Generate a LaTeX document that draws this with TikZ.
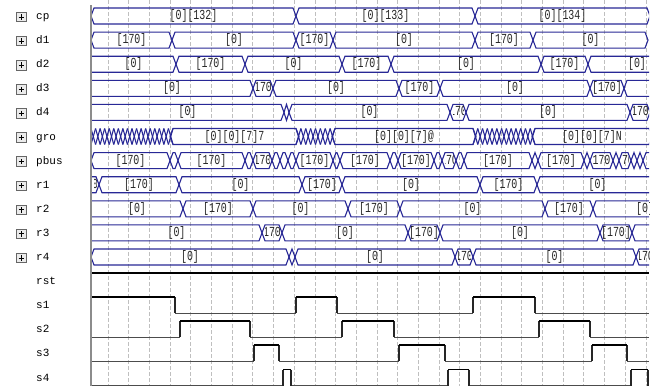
\documentclass[tikz,border=0pt]{standalone}
\usepackage{fontspec}
\newfontfamily\valfont[FakeStretch=0.72]{Liberation Mono}
\newfontfamily\lblfont{Liberation Mono}
\definecolor{busblue}{RGB}{40,40,150}
\tikzset{
  busline/.style={draw=busblue, line width=1.1pt, line join=miter},
  valtext/.style={font=\valfont\fontsize{13.8}{14}\selectfont, inner sep=0pt, text=black!85},
  lbl/.style={font=\lblfont\fontsize{11}{12}\selectfont, inner sep=0pt, anchor=base west},
  gridline/.style={draw=black!25, dash pattern=on 3.5pt off 2.5pt, line width=0.8pt},
  highline/.style={draw=black, line width=1.9pt},
  lowline/.style={draw=black!70, line width=1.1pt},
  edgeline/.style={draw=black!85, line width=1.1pt},
  plusframe/.style={draw=black!60, fill=black!8, line width=0.9pt},
  plussign/.style={draw=black, line width=1pt},
  border/.style={draw=black!45, line width=2pt},
}
% one bus segment: #1 yc, #2 left half-width, #3 a, #4 b, #5 label
\newcommand\busseg[5]{%
  \pgfmathsetmacro\wfHr{min(3,(#4-#3)/2)}%
  \pgfmathsetmacro\wfHl{min(#2,\wfHr)}%
  \pgfmathsetmacro\wfTop{#1-8}%
  \pgfmathsetmacro\wfBot{#1+8}%
  \draw[busline] (#3,#1) -- (#3+\wfHl,\wfTop) -- (#4-\wfHr,\wfTop) -- (#4,#1)
     -- (#4-\wfHr,\wfBot) -- (#3+\wfHl,\wfBot) -- cycle;
  \begin{scope}
    \clip (#3+3,\wfTop) rectangle (#4-3,\wfBot);
    \node[valtext] at ({(#3+#4)/2},#1) {#5};
  \end{scope}
}
\newcommand\wfrow[2]{%
  \foreach \wfh/\wfa/\wfb/\wflab in {#2} {\busseg{#1}{\wfh}{\wfa}{\wfb}{\wflab}}%
}
% dense transitions: #1 yc, #2 a, #3 b
\newcommand\zig[3]{%
  \pgfmathtruncatemacro\wfNz{round((#3-#2)/4.6)}%
  \pgfmathsetmacro\wfPz{(#3-#2)/\wfNz}%
  \foreach \wfi in {1,...,\wfNz} {
    \draw[busline] ({#2+(\wfi-1)*\wfPz},#1-8) -- ({#2+\wfi*\wfPz},#1+8);
    \draw[busline] ({#2+(\wfi-1)*\wfPz},#1+8) -- ({#2+\wfi*\wfPz},#1-8);
  }%
}
% digital row: #1 yc, #2 high intervals, #3 low intervals
\newcommand\digrow[3]{%
  \foreach \wfa/\wfb in {#3} {\draw[lowline] (\wfa,#1+8) -- (\wfb,#1+8);}
  \foreach \wfa/\wfb in {#2} {
    \draw[edgeline] (\wfa,#1-8) -- (\wfa,#1+8) (\wfb,#1-8) -- (\wfb,#1+8);
    \draw[highline] (\wfa,#1-8) -- (\wfb,#1-8);
  }%
}
\newcommand\plusbox[1]{%
  \draw[plusframe] (16.5,#1-3.7) rectangle (26,#1+5.8);
  \draw[plussign] (18.5,#1+1) -- (24,#1+1) (21.25,#1-1.75) -- (21.25,#1+3.75);
}
\begin{document}
\begin{tikzpicture}[x=1pt,y=-1pt]
\useasboundingbox (0,0) rectangle (656,386);
\fill[white] (0,0) rectangle (656,386);

% grid
\foreach \k in {0,...,26} {\draw[gridline] ({108+20.69*\k},0) -- ({108+20.69*\k},386);}

% left panel
\foreach \yy/\nm/\bx in {16/cp/1, 40.1/d1/1, 64.2/d2/1, 88.3/d3/1, 112.4/d4/1, 136.5/gro/1,
    160.6/pbus/1, 184.7/r1/1, 208.8/r2/1, 232.9/r3/1, 257/r4/1, 281.1/rst/0,
    305.2/s1/0, 329.3/s2/0, 353.4/s3/0, 377.5/s4/0} {
  \ifnum\bx=1 \plusbox{\yy}\fi
  \node[lbl] (lab-\nm) at (36,\yy+3.5) {\nm};
}

\begin{scope}
\clip (91,0) rectangle (649,386);
% cp
\wfrow{16}{3/91/296/{[0][132]}, 3/296/475/{[0][133]}, 3/475/650/{[0][134]}}
% d1
\wfrow{40.1}{3/91/172/{[170]}, 3/172/296/{[0]}, 3/296/333/{[170]}, 3/333/475/{[0]}, 3/475/533/{[170]}, 3/533/648/{[0]}}
% d2
\wfrow{64.2}{0/91/176/{[0]}, 3/176/245/{[170]}, 3/245/342/{[0]}, 3/342/391/{[170]}, 3/391/541/{[0]}, 3/541/588/{[170]}, 3/588/686/{[0]}}
% d3
\wfrow{88.3}{0/91/253/{[0]}, 3/253/273/{[170]}, 3/273/399/{[0]}, 3/399/440/{[170]}, 3/440/590/{[0]}, 3/590/624/{[170]}, 3/624/690/{}}
% d4
\wfrow{112.4}{0/91/284/{[0]}, 3/284/289/{}, 3/289/450/{[0]}, 3/450/466/{[170]}, 3/466/630/{[0]}, 3/630/650/{[170]}}
% gro
\zig{136.5}{91}{173}
\wfrow{136.5}{3/170/299/{[0][0][7]7}}
\zig{136.5}{296}{335}
\wfrow{136.5}{3/332/476/{[0][0][7]@}}
\zig{136.5}{473}{535}
\wfrow{136.5}{3/532/652/{[0][0][7]N}}
% pbus
\wfrow{160.6}{3/91/170/{[170]}, 3/170/178/{}, 3/178/245/{[170]}, 3/245/253/{}, 3/253/272/{[170]}, 3/272/280/{}, 3/280/288/{}, 3/288/296/{}, 3/296/333/{[170]}, 3/333/340/{}, 3/340/390/{[170]}, 3/390/398/{}, 3/398/434/{[170]}, 3/434/442/{}, 3/442/456/{[170]}, 3/456/464/{}, 3/464/532/{[170]}, 3/532/538/{}, 3/538/584/{[170]}, 3/584/590/{}, 3/590/613/{[170]}, 3/613/619/{}, 3/619/631/{[170]}, 3/631/637/{}, 3/637/643/{}, 3/643/690/{}}
% r1
\wfrow{184.7}{0/91/99/{[0]}, 3/99/179/{[170]}, 3/179/302/{[0]}, 3/302/342/{[170]}, 3/342/480/{[0]}, 3/480/537/{[170]}, 3/537/658/{[0]}}
% r2
\wfrow{208.8}{0/91/183/{[0]}, 3/183/253/{[170]}, 3/253/348/{[0]}, 3/348/400/{[170]}, 3/400/545/{[0]}, 3/545/593/{[170]}, 3/593/697/{[0]}}
% r3
\wfrow{232.9}{0/91/262/{[0]}, 3/262/282/{[170]}, 3/282/408/{[0]}, 3/408/440/{[170]}, 3/440/600/{[0]}, 3/600/632/{[170]}, 3/632/700/{}}
% r4
\wfrow{257}{3/91/289/{[0]}, 3/289/295/{}, 3/295/455/{[0]}, 3/455/473/{[170]}, 3/473/636/{[0]}, 3/636/654/{[170]}}
% rst
\draw[highline] (91,273.1) -- (649,273.1);
% s1..s4
\digrow{305.2}{91/175, 296/337, 473/535}{175/296, 337/473, 535/649}
\digrow{329.3}{180/250, 342/394, 539/590}{91/180, 250/342, 394/539, 590/649}
\digrow{353.4}{254/279, 399/445, 592/627}{91/254, 279/399, 445/592, 627/649}
\digrow{377.5}{283/291, 448/469, 631/648}{91/283, 291/448, 469/631, 648/649}
\end{scope}

% left border of the wave window
\draw[border] (90.5,5) -- (90.5,386);
\end{tikzpicture}
\end{document}
